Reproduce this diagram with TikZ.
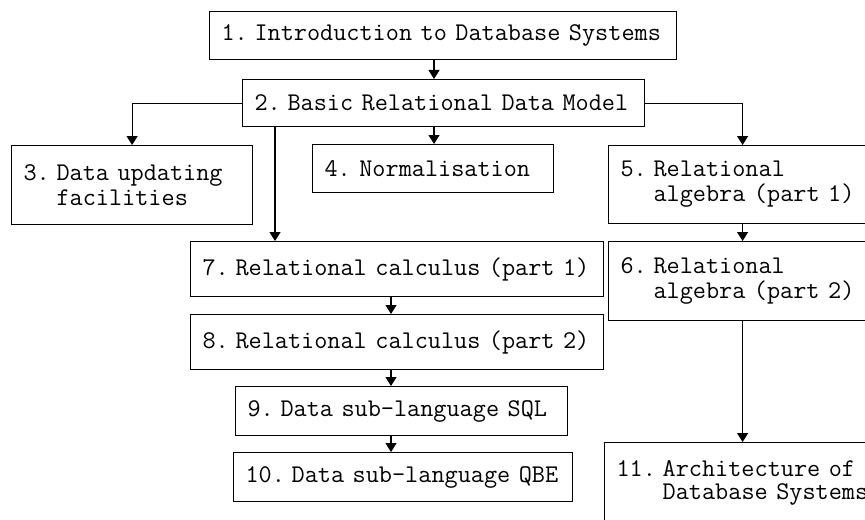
\documentclass[tikz,border=0pt]{standalone}
\usetikzlibrary{arrows.meta}
\newcommand\gap{\hspace{.2625em}}
\begin{document}
\begin{tikzpicture}[x=0.5pt,y=-0.5pt,line width=0.6pt,
    kotak/.style 2 args={draw, anchor=north west, align=left,
      inner xsep=6pt, inner ysep=0pt, text width=#1, minimum height=#2,
      font=\ttfamily\fontsize{12.75}{12.5}\selectfont},
    panah/.style={-{Triangle[length=4.5pt,width=5.5pt]}}]
  \useasboundingbox (0,0) rectangle (865,519);
  \clip (0,0) rectangle (865,519);

  % Kolom untuk panah
  \coordinate (kA) at (434,0);
  \coordinate (kB) at (391,0);
  \coordinate (kD) at (275,0);

  % Kotak bab
  \node[kotak={221.5pt}{24pt}] (b1) at (209,11) {1.\gap Introduction to Database Systems};
  \node[kotak={189pt}{23.5pt}] (b2) at (242,79) {2.\gap Basic Relational Data Model};
  \node[kotak={108.5pt}{39.5pt}] (b3) at (11,145) {3.\gap Data updating\\\phantom{3.}\gap facilities};
  \node[kotak={108.5pt}{24pt}] (b4) at (312,144) {4.\ Normalisation};
  \node[kotak={122pt}{39pt}] (b5) at (608,145) {5.\gap Relational\\\phantom{5.}\gap algebra (part 1)};
  \node[kotak={122pt}{39.5pt}] (b6) at (608,241) {6.\gap Relational\\\phantom{6.}\gap algebra (part 2)};
  \node[kotak={194.5pt}{27.5pt}] (b7) at (190,241) {7.\gap Relational calculus (part 1)};
  \node[kotak={194.5pt}{27.5pt}] (b8) at (190,314) {8.\gap Relational calculus (part 2)};
  \node[kotak={154pt}{24.5pt}] (b9) at (235,386) {9.\gap Data sub-language SQL};
  \node[kotak={157.5pt}{24.5pt}] (b10) at (233,452) {10.\gap Data sub-language QBE};
  \node[kotak={126pt}{0pt}, text height=17pt, text depth=40pt] (b11) at (604,442)
    {11.\gap Architecture of\\[-1pt]\phantom{11.}\gap Database Systems};

  % Garis penghubung
  \draw[panah] (b1.south -| kA) -- (b2.north -| kA);
  \draw[panah] (b2.south -| kA) -- (b4.north -| kA);
  \draw[panah] (b2.west) -| (b3.north);
  \draw[panah] (b2.east) -| (b5.north);
  \draw[panah] (b2.south -| kD) -- (b7.north -| kD);
  \draw[panah] (b5.south) -- (b6.north);
  \draw[panah] (b6.south) -- (b11.north);
  \foreach \p/\q in {b7/b8,b8/b9,b9/b10}
    {
      \draw[panah] (\p.south -| kB) -- (\q.north -| kB);
    }
\end{tikzpicture}
\end{document}
